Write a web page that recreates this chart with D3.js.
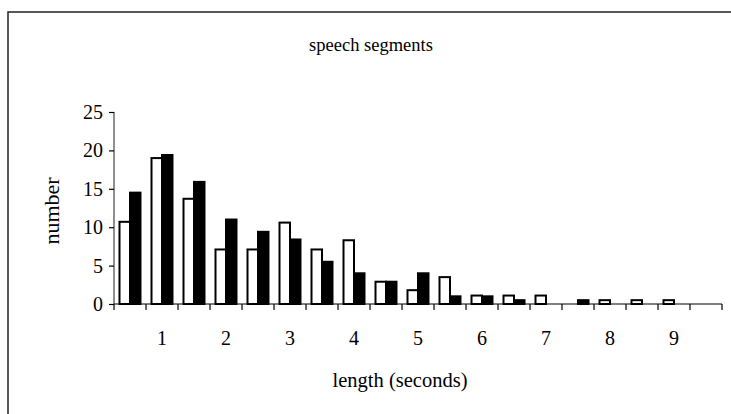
<!DOCTYPE html>
<html>
<head>
<meta charset="utf-8">
<script src="https://cdn.jsdelivr.net/npm/d3@7"></script>
<style>
  html, body { margin: 0; padding: 0; background: #fff; overflow: hidden; }
  svg { display: block; }
  text { font-family: "Liberation Serif", "Times New Roman", serif; fill: #000; }
</style>
</head>
<body>
<svg id="chart" width="731" height="414"></svg>
<script>
// Category labels (0.5 s bins; only every second carries a label)
const categories = ["", "1", "", "2", "", "3", "", "4", "", "5", "", "6", "", "7", "", "8", "", "9", ""];
// Series values (white and black bars)
const whiteValues = [10.7, 19.0, 13.7, 7.1, 7.1, 10.6, 7.1, 8.3, 2.9, 1.8, 3.5, 1.1, 1.1, 1.1, 0, 0.5, 0.5, 0.5, 0];
const blackValues = [14.5, 19.4, 15.9, 11.0, 9.4, 8.4, 5.5, 4.0, 2.9, 4.0, 1.0, 1.0, 0.5, 0, 0.5, 0, 0, 0, 0];
const yTicks = [0, 5, 10, 15, 20, 25];
const title = "speech segments";
const xTitle = "length (seconds)";
const yTitle = "number";

(function () {
const svg = d3.select("#chart");
const plotLeft = 114, plotRight = 722, plotTop = 112, plotBottom = 304;

// outer frame
svg.append("rect")
  .attr("x", 8).attr("y", 12).attr("width", 760).attr("height", 440)
  .attr("fill", "none").attr("stroke", "#222").attr("stroke-width", 1.5);

const x = d3.scaleBand().domain(d3.range(categories.length)).range([plotLeft, plotRight]).paddingInner(0).paddingOuter(0);
const y = d3.scaleLinear().domain([0, 25]).range([plotBottom, plotTop]);

const groupW = x.bandwidth() * 21 / 32;
const barW = groupW / 2;
const series = [
  { values: whiteValues, fill: "#fff", offset: 0 },
  { values: blackValues, fill: "#000", offset: 1 }
];

series.forEach(s => {
  svg.append("g").selectAll("rect")
    .data(s.values.map((v, i) => ({ v, i })).filter(d => d.v > 0))
    .join("rect")
    .attr("x", d => x(d.i) + (x.bandwidth() - groupW) / 2 + s.offset * barW)
    .attr("y", d => y(d.v))
    .attr("width", barW)
    .attr("height", d => y(0) - y(d.v))
    .attr("fill", s.fill)
    .attr("stroke", "#000")
    .attr("stroke-width", 2);
});

// Y axis
const yAxis = d3.axisLeft(y).tickValues(yTicks).tickSize(5).tickPadding(6);
const gy = svg.append("g").attr("transform", `translate(${plotLeft},0)`).call(yAxis);
gy.attr("font-size", 20).attr("font-family", "Liberation Serif");
gy.select(".domain").attr("stroke", "#444").attr("stroke-width", 1.2).attr("d", `M0,${plotTop}H0V${plotBottom}`);
gy.selectAll(".tick line").attr("stroke", "#000").attr("stroke-width", 1.2);
gy.selectAll(".tick text").attr("font-size", 20);

// X axis: tick marks at category boundaries
const gx = svg.append("g").attr("transform", `translate(0,${plotBottom})`);
gx.append("line").attr("x1", plotLeft).attr("x2", plotRight).attr("y1", 0).attr("y2", 0)
  .attr("stroke", "#000").attr("stroke-width", 1.2);
const boundaries = d3.range(categories.length + 1).map(i => i < categories.length ? x(i) : x(categories.length - 1) + x.bandwidth());
gx.selectAll("line.tk").data(boundaries).join("line")
  .attr("class", "tk")
  .attr("x1", d => d).attr("x2", d => d).attr("y1", 0).attr("y2", 6)
  .attr("stroke", "#000").attr("stroke-width", 1.2);
gx.selectAll("text").data(categories.map((c, i) => ({ c, i })).filter(d => d.c !== "")).join("text")
  .attr("x", d => x(d.i) + x.bandwidth() / 2)
  .attr("y", 41)
  .attr("text-anchor", "middle")
  .attr("font-size", 20)
  .text(d => d.c);

// Titles
svg.append("text").attr("x", 371).attr("y", 51).attr("text-anchor", "middle").attr("font-size", 18.5).text(title);
svg.append("text").attr("x", 400).attr("y", 387).attr("text-anchor", "middle").attr("font-size", 20.5).text(xTitle);
svg.append("text").attr("transform", "translate(59,211) rotate(-90)").attr("text-anchor", "middle").attr("font-size", 22).text(yTitle);
})();
</script>
</body>
</html>
